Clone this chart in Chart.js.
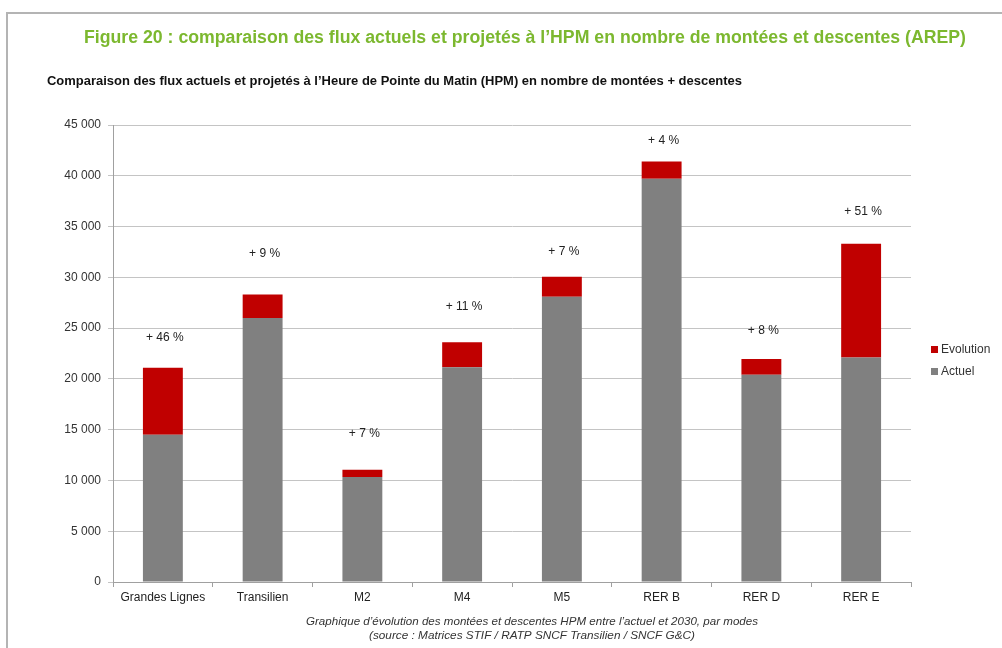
<!DOCTYPE html>
<html>
<head>
<meta charset="utf-8">
<script src="https://cdn.jsdelivr.net/npm/chart.js@4.4.1/dist/chart.umd.min.js"></script>
<style>
html,body{margin:0;padding:0;background:#fff;}
#wrap{position:relative;width:1002px;height:648px;}
canvas{display:block;}
</style>
</head>
<body>
<div id="wrap"><canvas id="c" width="1002" height="648"></canvas></div>
<script>
const categories = ["Grandes Lignes","Transilien","M2","M4","M5","RER B","RER D","RER E"];
const actuel    = [14500, 26000, 10350, 21150, 28100, 39700, 20400, 22100];
const evolution = [ 6600,  2300,   700,  2450,  1950,  1700,  1550, 11200];
const pctLabels = ["+ 46 %","+ 9 %","+ 7 %","+ 11 %","+ 7 %","+ 4 %","+ 8 %","+ 51 %"];
const pctLabelY = [24050, 32350, 14600, 27100, 32550, 43500, 24750, 36450];
const yTicks    = [0,5000,10000,15000,20000,25000,30000,35000,40000,45000];

const titleText = "Figure 20 : comparaison des flux actuels et projetés à l’HPM en nombre de montées et descentes (AREP)";
const subtitleText = "Comparaison des flux actuels et projetés à l’Heure de Pointe du Matin (HPM) en nombre de montées + descentes";
const caption1 = "Graphique d’évolution des montées et descentes HPM entre l’actuel et 2030, par modes";
const caption2 = "(source : Matrices STIF / RATP SNCF Transilien / SNCF G&C)";

const FONT = "'Liberation Sans', Arial, sans-serif";

function fmt(v){ return String(v).replace(/\B(?=(\d{3})+(?!\d))/g, " "); }

function fitText(ctx, text, x, y, width, align){
  const w = ctx.measureText(text).width;
  const s = width / w;
  ctx.save();
  let left = align === 'center' ? x - width/2 : x;
  ctx.translate(left, y);
  ctx.scale(s, 1);
  ctx.textAlign = 'left';
  ctx.fillText(text, 0, 0);
  ctx.restore();
}

const decor = {
  id: 'decor',
  beforeDraw(chart){
    const ctx = chart.ctx;
    ctx.save();
    ctx.fillStyle = '#fff';
    ctx.fillRect(0,0,chart.width,chart.height);
    ctx.strokeStyle = '#b4b4b4';
    ctx.lineWidth = 2;
    ctx.beginPath();
    ctx.moveTo(7, 648); ctx.lineTo(7, 13); ctx.lineTo(1002, 13);
    ctx.stroke();
    ctx.restore();
  },
  afterDraw(chart){
    const ctx = chart.ctx;
    const xs = chart.scales.x, ys = chart.scales.y;
    ctx.save();
    ctx.textBaseline = 'middle';
    // title
    ctx.fillStyle = '#7cb82f';
    ctx.font = "bold 18px " + FONT;
    fitText(ctx, titleText, 525, 38, 882, 'center');
    // subtitle
    ctx.fillStyle = '#111';
    ctx.font = "bold 12px " + FONT;
    fitText(ctx, subtitleText, 47, 82, 695, 'left');
    // pct labels
    ctx.fillStyle = '#222';
    ctx.font = "12px " + FONT;
    ctx.textAlign = 'center';
    pctLabels.forEach((t,i)=>{
      ctx.fillText(t, xs.getPixelForValue(i) + 2, ys.getPixelForValue(pctLabelY[i]));
    });
    // legend
    const ds = chart.data.datasets;
    const legendItems = [ds[1], ds[0]];
    ctx.font = "12px " + FONT;
    ctx.textAlign = 'left';
    legendItems.forEach((d,i)=>{
      const y = 350 + i*22;
      ctx.fillStyle = d.backgroundColor;
      ctx.fillRect(931, y-4, 7, 7);
      ctx.fillStyle = '#333';
      ctx.fillText(d.label, 941, y);
    });
    // caption
    ctx.fillStyle = '#333';
    ctx.font = "italic 11px " + FONT;
    fitText(ctx, caption1, 532, 622, 452, 'center');
    fitText(ctx, caption2, 532, 636, 326, 'center');
    ctx.restore();
  }
};

new Chart(document.getElementById('c'), {
  type: 'bar',
  data: {
    labels: categories,
    datasets: [
      { label: 'Actuel', data: actuel, backgroundColor: '#808080', stack: 's' },
      { label: 'Evolution', data: evolution, backgroundColor: '#c00000', stack: 's' }
    ]
  },
  options: {
    responsive: false,
    animation: false,
    events: [],
    layout: { padding: { left: 0, right: 91, top: 125, bottom: 0 } },
    datasets: { bar: { categoryPercentage: 1.0, barPercentage: 0.4 } },
    plugins: { legend: { display: false }, tooltip: { enabled: false }, title: { display: false } },
    scales: {
      x: {
        stacked: true,
        afterFit(s){ s.height = 66; },
        grid: { offset: true, drawOnChartArea: false, drawTicks: true, tickLength: 5, color: '#a0a0a0' },
        border: { color: '#a0a0a0', width: 1 },
        ticks: { color: '#222', font: { family: FONT, size: 12 }, padding: 3, maxRotation: 0 }
      },
      y: {
        stacked: true,
        min: 0, max: 45000,
        afterFit(s){ s.width = 113; },
        afterBuildTicks(s){ s.ticks = yTicks.map(v=>({value:v})); },
        grid: { color: '#c4c4c4', tickLength: 5, drawTicks: true },
        border: { color: '#a0a0a0', width: 1 },
        ticks: { color: '#333', font: { family: FONT, size: 12 }, padding: 7, callback: v => fmt(v) }
      }
    }
  },
  plugins: [decor]
});
</script>
</body>
</html>
